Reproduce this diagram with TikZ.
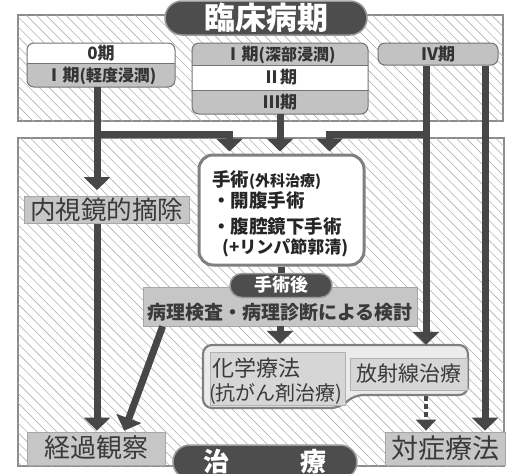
\documentclass[tikz,border=0pt]{standalone}
\usepackage{fontspec}
\setmainfont{Noto Sans CJK JP}
\usetikzlibrary{arrows.meta,patterns.meta}
\definecolor{arrc}{HTML}{474747}
\definecolor{pillc}{HTML}{4D4D4D}
\definecolor{boxg}{HTML}{C6C6C6}
\definecolor{boxl}{HTML}{D6D6D6}
\definecolor{bandg}{HTML}{C2C2C2}
\definecolor{txtg}{HTML}{3A3A3A}
\newcommand{\jt}[2]{\raisebox{0pt}[0.86\dimexpr#1pt\relax][0.14\dimexpr#1pt\relax]{\fontsize{#1}{#1}\selectfont #2}}
\begin{document}
\begin{tikzpicture}[x=1pt,y=-1pt,
  panel/.style={draw=black!45,line width=1.2pt,fill=white,
    postaction={pattern={Lines[angle=-45,distance=7pt,line width=0.6pt]},pattern color=black!30}},
  arr/.style={draw=arrc,line width=7pt,line join=miter,-{Triangle[width=26pt,length=13pt]}},
  bar/.style={draw=arrc,line width=7pt,line join=miter},
  pill/.style={fill=pillc,draw=black!40,line width=1.5pt,text=white,font=\bfseries,inner sep=0pt},
  band/.style={inner sep=0pt,font=\bfseries,text=black!80},
  bandline/.style={draw=black!55,line width=1pt},
  gbox/.style={fill=boxg,draw=black!35,line width=0.8pt,inner sep=0pt,text=txtg},
  lbox/.style={fill=boxl,draw=black!30,line width=0.8pt,inner sep=0pt,text=txtg},
  surgbox/.style={fill=white,draw=black!50,line width=3pt,rounded corners=14pt,inner sep=0pt},
  chemshape/.style={fill=black!8,draw=black!50,line width=2.2pt},
  ltxt/.style={anchor=west,inner sep=0pt,font=\bfseries,text=black!85},
]
\useasboundingbox (0,0) rectangle (509,474);
\clip (0,0) rectangle (509,474);

% panels
\draw[panel] (18,15) rectangle (503,121);
\draw[panel] (18,138) rectangle (504,466);

% title
\node[pill,minimum width=202pt,minimum height=34pt,rounded corners=17pt] (title) at (266,18) {\jt{31}{臨床病期}};

% stage group A
\begin{scope}
  \clip[rounded corners=7pt] (27,43) rectangle (175,87);
  \node[band,fill=white,minimum width=148pt,minimum height=20pt] (s0) at (101,53) {\jt{17}{0期}};
  \node[band,fill=bandg,minimum width=148pt,minimum height=24pt] (s1) at (101,75) {\jt{17}{Ⅰ期}\jt{16}{(軽度浸潤)}};
\end{scope}
\draw[bandline,rounded corners=7pt] (27,43) rectangle (175,87);
\draw[bandline] (s0.south west) -- (s0.south east);

% stage group B
\begin{scope}
  \clip[rounded corners=7pt] (192,43) rectangle (368,114);
  \node[band,fill=bandg,minimum width=176pt,minimum height=22pt] (b1) at (280,54) {\jt{17}{Ⅰ期}\jt{16}{(深部浸潤)}};
  \node[band,fill=white,minimum width=176pt,minimum height=25pt] (b2) at (280,77.5) {\jt{17}{Ⅱ期}};
  \node[band,fill=bandg,minimum width=176pt,minimum height=24pt] (b3) at (280,102) {\jt{17}{Ⅲ期}};
\end{scope}
\draw[bandline,rounded corners=7pt] (192,43) rectangle (368,114);
\draw[bandline] (b1.south west) -- (b1.south east);
\draw[bandline] (b2.south west) -- (b2.south east);

% stage IV
\node[band,fill=bandg,draw=black!55,line width=1pt,rounded corners=7pt,minimum width=120pt,minimum height=22pt] (s4) at (438,54) {\jt{17}{Ⅳ期}};

% treatment nodes
\node[gbox,minimum width=165pt,minimum height=27pt] (endo) at (107,210) {\jt{25.5}{内視鏡的摘除}};
\node[surgbox,minimum width=165pt,minimum height=110pt] (surg) at (281.5,210) {};
\node[ltxt] (sl1) at (212,180) {\jt{18.5}{手術}\jt{15}{(外科治療)}};
\node[ltxt] (sl2) at (212,201) {\jt{18.5}{・開腹手術}};
\node[ltxt] (sl3) at (212,227) {\jt{18.5}{・腹腔鏡下手術}};
\node[ltxt] (sl4) at (222,247) {\jt{17}{(+リンパ節郭清)}};

\node[gbox,minimum width=274pt,minimum height=39pt] (patho) at (280,306.5) {};
\node[inner sep=0pt,font=\bfseries,text=txtg] (pathot) at (280,312.5) {\jt{19}{病理検査・病理診断による検討}};
\node[pill,minimum width=102pt,minimum height=24pt,rounded corners=12pt] (post) at (281,285.5) {\jt{18}{手術後}};

% chemo / radio group
\node[inner sep=0pt,minimum width=265pt,minimum height=63pt] (chem) at (335.5,376.5) {};
\draw[chemshape,rounded corners=9pt] (203,345) -- (468,345) -- (468,395) -- (354,395) -- (340,408) -- (203,408) -- cycle;
\node[lbox,minimum width=135pt,minimum height=53pt] (chemb) at (277.5,378.5) {};
\node[anchor=west,inner sep=0pt,text=txtg] (ct1) at (212,369) {\jt{22}{化学療法}};
\node[anchor=west,inner sep=0pt,text=txtg] (ct2) at (209,393.5) {\jt{20}{(抗がん剤治療)}};
\node[lbox,minimum width=117pt,minimum height=32pt] (radio) at (408.5,374) {\jt{21}{放射線治療}};

\node[gbox,minimum width=138pt,minimum height=33pt] (kei) at (96,448.5) {\jt{26}{経過観察}};
\node[gbox,minimum width=120pt,minimum height=33pt] (symp) at (445,448.5) {\jt{27}{対症療法}};

\node[pill,minimum width=184pt,minimum height=34pt,rounded corners=17pt] (treat) at (265,462) {\jt{26}{治\hspace{72pt}療}};

% connectors
\coordinate (xa) at (97,0);
\coordinate (barL) at (97,134);
\draw[arr,shorten >=6pt] (xa |- s1.south) -- (xa |- endo.north);
\draw[arr,shorten >=1pt] (xa |- endo.south) -- (xa |- kei.north);
\draw[arr,shorten >=2pt] (barL) -| ([xshift=-52pt]surg.north);
\draw[arr,shorten >=2pt] (b3.south) -- (b3.south |- surg.north);
\coordinate (xr) at ([xshift=-12pt]s4.south);
\coordinate (barR) at (xr |- barL);
\draw[arr] (xr) -- (xr |- chem.north);
\draw[arr,shorten >=2pt] (barR) -| ([xshift=48pt]surg.north);
\draw[arr,shorten >=1pt] ([xshift=47pt]s4.south) -- ([xshift=47pt]s4.south |- symp.north);
\draw[bar] (surg.south -| post.north) -- (post.north);
\draw[arr,shorten >=1pt] (patho.south) -- (patho.south |- chem.north);
\draw[arr,shorten >=1pt] ([xshift=20pt]patho.south west) -- ([xshift=28pt]kei.north);
\draw[draw=arrc,line width=4pt,dash pattern=on 5pt off 3pt,-{Triangle[width=20pt,length=11pt]},shorten <=6pt,shorten >=1pt]
  (xr |- radio.south) -- (xr |- symp.north);
\end{tikzpicture}
\end{document}
